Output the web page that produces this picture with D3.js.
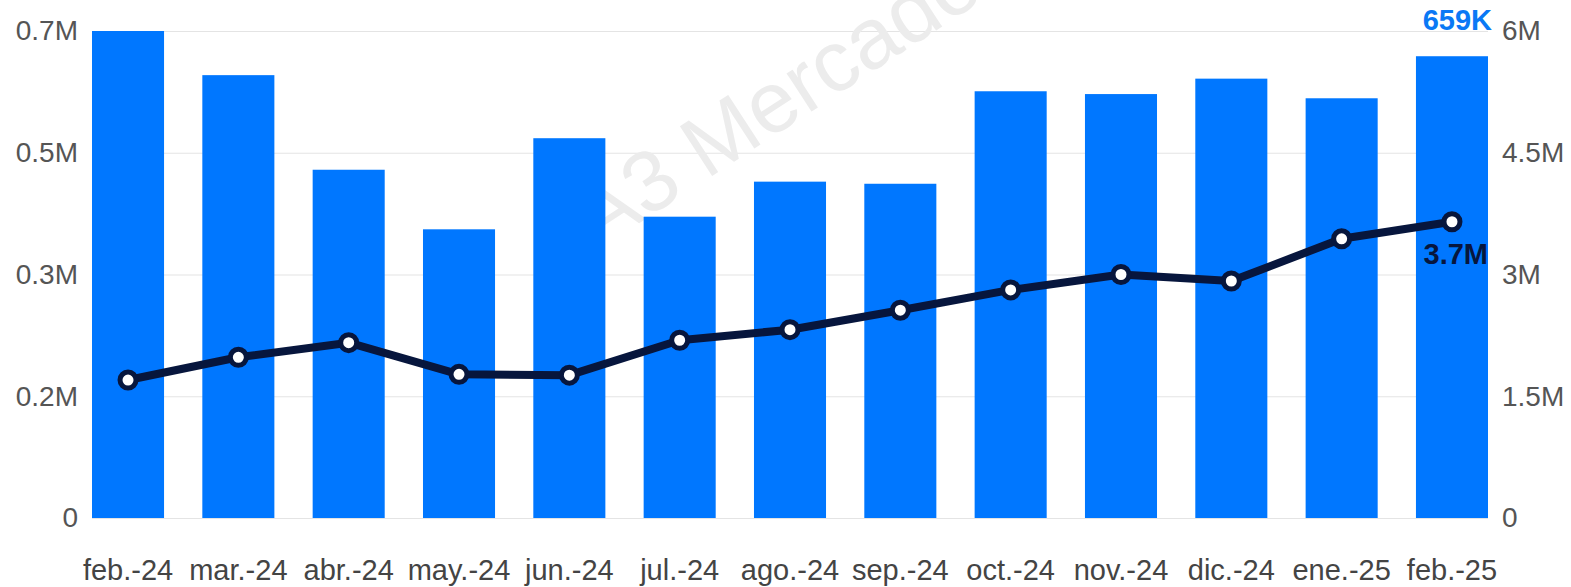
<!DOCTYPE html>
<html>
<head>
<meta charset="utf-8">
<script src="https://cdn.jsdelivr.net/npm/d3@7"></script>
<style>
  body { margin: 0; background: #fff; }
  svg text { font-family: "Liberation Sans", Arial, sans-serif; }
</style>
</head>
<body>
<div id="chart"></div>
<script>
// months on the x axis
var months = ["feb.-24", "mar.-24", "abr.-24", "may.-24", "jun.-24", "jul.-24", "ago.-24",
              "sep.-24", "oct.-24", "nov.-24", "dic.-24", "ene.-25", "feb.-25"];

// bars, left axis (millions)
var barValues = [0.695, 0.632, 0.497, 0.412, 0.542, 0.430, 0.480, 0.477, 0.609, 0.605, 0.627, 0.599, 0.659];

// line, right axis (millions)
var lineValues = [1.70, 1.98, 2.16, 1.77, 1.76, 2.19, 2.32, 2.56, 2.81, 3.00, 2.92, 3.44, 3.65];

var leftTickLabels = ["0", "0.2M", "0.3M", "0.5M", "0.7M"];
var rightTickLabels = ["0", "1.5M", "3M", "4.5M", "6M"];
var leftMax = 0.695;
var rightMax = 6;

var lastBarLabel = "659K";
var lastLineLabel = "3.7M";

var w = 1571, h = 587;
var plotLeft = 92, plotRight = 1488, plotTop = 31, plotBottom = 518;

var svg = d3.select("#chart").append("svg")
    .attr("width", w)
    .attr("height", h);

var x = d3.scaleBand()
    .domain(months)
    .range([plotLeft, plotRight])
    .paddingInner(0.347)
    .paddingOuter(0);

var yL = d3.scaleLinear().domain([0, leftMax]).range([plotBottom, plotTop]);
var yR = d3.scaleLinear().domain([0, rightMax]).range([plotBottom, plotTop]);

var leftTicks = leftTickLabels.map(function(d, i) { return leftMax * i / 4; });
var rightTicks = rightTickLabels.map(function(d, i) { return rightMax * i / 4; });

// gridlines
svg.append("g")
    .attr("transform", "translate(" + plotLeft + ",0)")
    .call(d3.axisLeft(yL).tickValues(leftTicks).tickSize(-(plotRight - plotLeft)).tickFormat(""))
    .call(function(g) {
        g.select(".domain").remove();
        g.selectAll("line").attr("stroke", "#e4e4e4").attr("stroke-width", 1.2);
    });

// watermark
svg.append("text")
    .attr("transform", "translate(598,250) rotate(-33)")
    .attr("font-size", 86)
    .attr("fill", "#ececec")
    .text("A3 Mercados");

// bars
svg.append("g")
    .selectAll("rect")
    .data(barValues)
    .enter()
    .append("rect")
    .attr("x", function(d, i) { return x(months[i]); })
    .attr("y", function(d) { return yL(d); })
    .attr("width", x.bandwidth())
    .attr("height", function(d) { return plotBottom - yL(d); })
    .attr("fill", "#0077ff");

// line
var line = d3.line()
    .x(function(d, i) { return x(months[i]) + x.bandwidth() / 2; })
    .y(function(d) { return yR(d); });

svg.append("path")
    .datum(lineValues)
    .attr("d", line)
    .attr("fill", "none")
    .attr("stroke", "#07163d")
    .attr("stroke-width", 8)
    .attr("stroke-linejoin", "round");

svg.append("g")
    .selectAll("circle")
    .data(lineValues)
    .enter()
    .append("circle")
    .attr("cx", function(d, i) { return x(months[i]) + x.bandwidth() / 2; })
    .attr("cy", function(d) { return yR(d); })
    .attr("r", 8)
    .attr("fill", "#fff")
    .attr("stroke", "#07163d")
    .attr("stroke-width", 5);

// left axis
svg.append("g")
    .attr("transform", "translate(" + (plotLeft - 14) + ",0)")
    .call(d3.axisLeft(yL).tickValues(leftTicks).tickSize(0).tickPadding(0)
        .tickFormat(function(d, i) { return leftTickLabels[i]; }))
    .call(function(g) {
        g.select(".domain").remove();
        g.selectAll("text").attr("font-size", 28).attr("fill", "#555");
    });

// right axis
svg.append("g")
    .attr("transform", "translate(" + (plotRight + 14) + ",0)")
    .call(d3.axisRight(yR).tickValues(rightTicks).tickSize(0).tickPadding(0)
        .tickFormat(function(d, i) { return rightTickLabels[i]; }))
    .call(function(g) {
        g.select(".domain").remove();
        g.selectAll("text").attr("font-size", 28).attr("fill", "#555");
    });

// x axis
svg.append("g")
    .attr("transform", "translate(0," + plotBottom + ")")
    .call(d3.axisBottom(x).tickSize(0).tickPadding(41))
    .call(function(g) {
        g.select(".domain").remove();
        g.selectAll("text").attr("font-size", 29).attr("fill", "#444");
    });

// value labels on the last point
var lastI = months.length - 1;
svg.append("text")
    .attr("x", x(months[lastI]) + x.bandwidth() + 4)
    .attr("y", yL(barValues[lastI]) - 26)
    .attr("text-anchor", "end")
    .attr("font-size", 29)
    .attr("font-weight", "bold")
    .attr("fill", "#0a78f5")
    .text(lastBarLabel);

svg.append("text")
    .attr("x", x(months[lastI]) + x.bandwidth())
    .attr("y", yR(lineValues[lastI]) + 42)
    .attr("text-anchor", "end")
    .attr("font-size", 29)
    .attr("font-weight", "bold")
    .attr("fill", "#07163d")
    .text(lastLineLabel);
</script>
</body>
</html>
